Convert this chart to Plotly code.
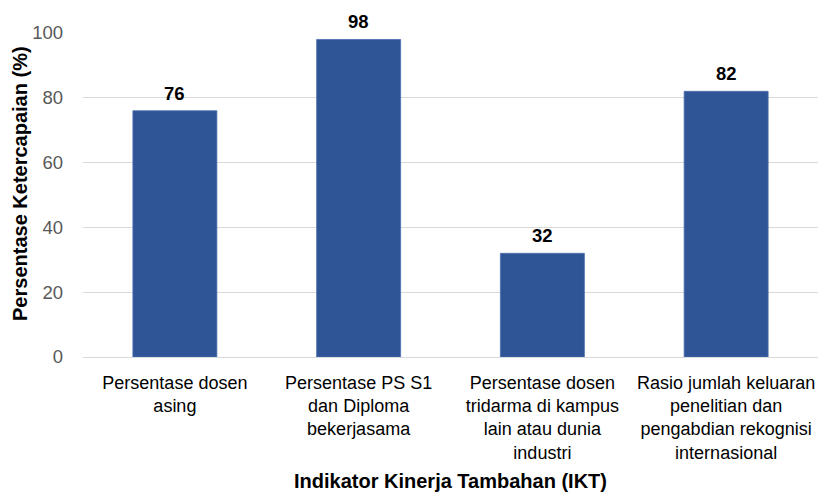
import plotly.graph_objects as go

categories = [
    'Persentase dosen<br>asing',
    'Persentase PS S1<br>dan Diploma<br>bekerjasama',
    'Persentase dosen<br>tridarma di kampus<br>lain atau dunia<br>industri',
    'Rasio jumlah keluaran<br>penelitian dan<br>pengabdian rekognisi<br>internasional',
]
values = [76, 98, 32, 82]
y_ticks = [0, 20, 40, 60, 80, 100]

font_family = 'Liberation Sans, Arial, sans-serif'

fig = go.Figure(go.Bar(
    x=categories,
    y=values,
    marker=dict(color='#2F5597', line=dict(color='#4A6FB0', width=0.8)),
))

# value labels above the bars
for cat, val in zip(categories, values):
    fig.add_annotation(x=cat, y=val, text='<b>%d</b>' % val, showarrow=False,
                       yanchor='bottom', yshift=5,
                       font=dict(family=font_family, size=18.5, color='#000000'))

# y axis title placed by hand (sits a bit above the plot centre)
fig.add_annotation(x=-63 / 735, y=0.534, xref='paper', yref='paper',
                   text='<b>Persentase Ketercapaian (%)</b>', textangle=-90,
                   showarrow=False, xanchor='center', yanchor='middle',
                   font=dict(family=font_family, size=20, color='#000000'))

fig.update_layout(
    width=819,
    height=492,
    margin=dict(l=83, r=1, t=33, b=135, autoexpand=False),
    plot_bgcolor='white',
    paper_bgcolor='white',
    bargap=0.543,
    showlegend=False,
    font=dict(family=font_family),
)

fig.update_yaxes(
    range=[0, 100],
    tickvals=y_ticks,
    automargin=False,
    showgrid=True,
    gridcolor='#d9d9d9',
    gridwidth=1,
    zeroline=False,
    showline=False,
    ticks='',
    tickfont=dict(size=18.5, color='#595959'),
    ticklabelstandoff=19,
)

fig.update_xaxes(
    automargin=False,
    showline=True,
    linecolor='#d9d9d9',
    linewidth=1,
    ticks='',
    tickfont=dict(size=18, color='#000000'),
    tickangle=0,
    ticklabelstandoff=9,
    title=dict(text='<b>Indikator Kinerja Tambahan (IKT)</b>',
               font=dict(size=20, color='#000000'), standoff=13),
)

# drop the default 8px body margin so the figure fills the window
fig.write_html('out.html', config={'displayModeBar': False},
               post_script="document.body.style.margin='0';")
